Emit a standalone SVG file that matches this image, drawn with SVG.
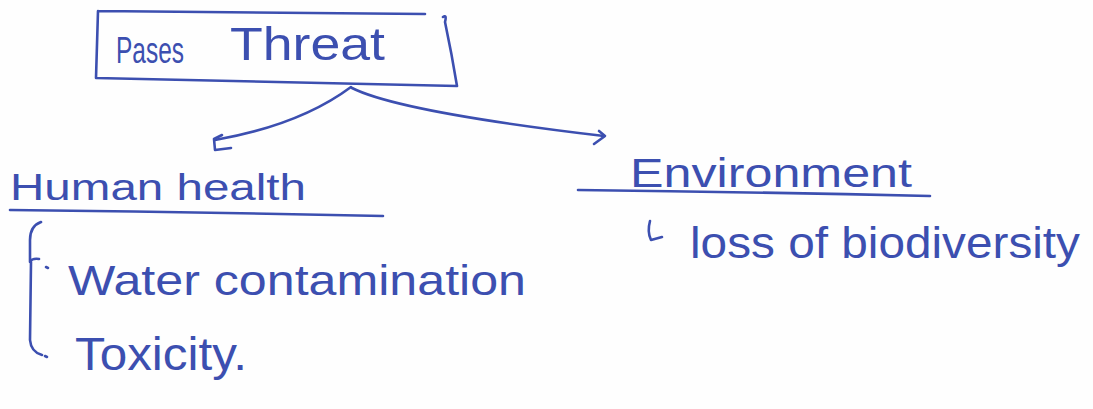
<svg xmlns="http://www.w3.org/2000/svg" width="1093" height="409" viewBox="0 0 1093 409">
<style>
.ink{fill:none;stroke:#3c4fb0;stroke-width:2.6;stroke-linecap:round;stroke-linejoin:round}
.t{fill:#3c4fb0;font-family:"Liberation Sans","DejaVu Sans",sans-serif;font-weight:normal}
</style>
<rect width="1093" height="409" fill="#fefefe"/>
<g id="node-poses-threat">
<path class="ink" d="M98 11 L425 14 M98 11 L96 78 L457 86 M443 17 Q447 14 445 22 Q452 55 457 86"/>
<text class="t" x="116" y="63" font-size="36" textLength="68" lengthAdjust="spacingAndGlyphs">Pases</text>
<text class="t" x="230" y="60" font-size="46" textLength="155" lengthAdjust="spacingAndGlyphs">Threat</text>
</g>
<g id="connectors">
<path class="ink" d="M351 87 Q300 125 215 140"/>
<path class="ink" d="M222 135 L214 139 L215 150 L231 148"/>
<path class="ink" d="M352 88 Q400 112 604 136"/>
<path class="ink" d="M599 131 L605 136 L594 144"/>
<path class="ink" d="M41 222 Q30 226 30 240 L30 262 Q32 258 39 259 M31 262 L30 340 Q31 352 42 355"/>
<path class="ink" d="M46 267 L48 268 M45 356 L47 357"/>
<path class="ink" d="M650 221 Q647 232 651 240 L662 237"/>
</g>
<g id="node-human-health">
<text class="t" x="10" y="200" font-size="36" textLength="296" lengthAdjust="spacingAndGlyphs">Human health</text>
<path class="ink" d="M10 210 Q200 212 383 216"/>
</g>
<g id="node-water-contamination">
<text class="t" x="68" y="295" font-size="42" textLength="458" lengthAdjust="spacingAndGlyphs">Water contamination</text>
</g>
<g id="node-toxicity">
<text class="t" x="75" y="370" font-size="46" textLength="172" lengthAdjust="spacingAndGlyphs">Toxicity.</text>
</g>
<g id="node-environment">
<text class="t" x="630" y="187" font-size="40" textLength="282" lengthAdjust="spacingAndGlyphs">Environment</text>
<path class="ink" d="M578 190 Q750 192 930 196"/>
</g>
<g id="node-biodiversity">
<text class="t" x="690" y="258" font-size="44" textLength="390" lengthAdjust="spacingAndGlyphs">loss of biodiversity</text>
</g>
</svg>
